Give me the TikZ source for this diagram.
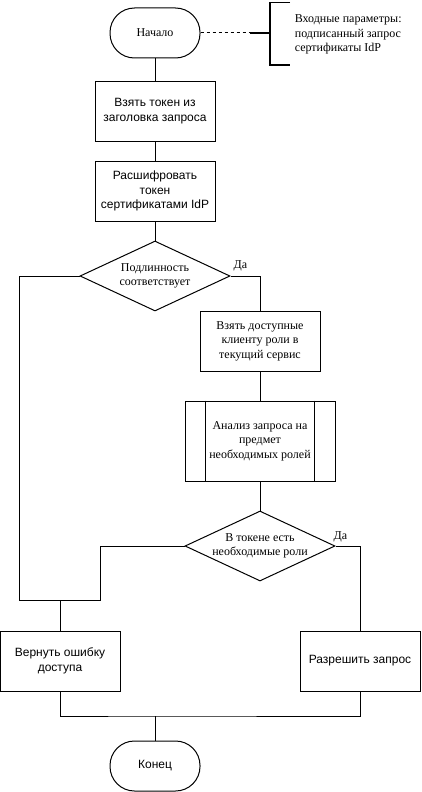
\documentclass[tikz,border=0pt]{standalone}
\usepackage{fontspec}
\setmainfont{Liberation Serif}
\setsansfont{Liberation Sans}
\usetikzlibrary{shapes.geometric}

\begin{document}
\begin{tikzpicture}[x=1pt, y=-1pt, line width=1pt,
  every node/.style={font=\fontsize{12}{14.5}\selectfont},
  box/.style={draw, rectangle, minimum width=120pt, minimum height=60pt,
    inner sep=0pt, align=center},
  sansbox/.style={box, font=\sffamily\fontsize{12}{14.5}\selectfont},
  terminal/.style={draw, rectangle, rounded corners=24.5pt, minimum width=90pt,
    minimum height=50pt, inner sep=0pt, align=center},
  decision/.style={draw, diamond, minimum width=150pt, minimum height=70pt,
    inner sep=0pt},
  dlabel/.style={align=center, font=\fontsize{12}{14.5}\selectfont},
  flow/.style={draw, line width=1pt},
]
\useasboundingbox (0,0) rectangle (421,792);

% terminals
\node[terminal] (start) at (155,33) {Начало};
\node[terminal, font=\sffamily\fontsize{12}{14.5}\selectfont] (finish) at (155,766) {Конец};

% main column
\node[sansbox] (b1) at (155,111) {Взять токен из\\заголовка запроса};
\node[sansbox] (b2) at (155,191) {Расшифровать\\токен\\сертификатами IdP};
\node[decision] (d1) at (155,276) {};
\node[dlabel] (d1t) at (d1) {Подлинность\\соответствует};

% right column
\node[box] (b3) at (260,341) {Взять доступные\\клиенту роли в\\текущий сервис};
\node[box, minimum width=150pt, minimum height=80pt] (b4) at (260,441)
  {Анализ запроса на\\предмет\\необходимых ролей};
\draw ([xshift=21pt]b4.north west) -- ([xshift=21pt]b4.south west);
\draw ([xshift=-21pt]b4.north east) -- ([xshift=-21pt]b4.south east);
\node[decision] (d2) at (260,546) {};
\node[dlabel] (d2t) at (d2) {В токене есть\\необходимые роли};

% outcomes
\node[sansbox] (deny) at (60,661) {Вернуть ошибку\\доступа};
\node[sansbox] (allow) at (360,661) {Разрешить запрос};

% junction points
\coordinate (mergeL) at (60,600);
\coordinate (bendL) at (100,600);
\coordinate (join) at (155,716);

% annotation
\coordinate (annA) at (250,33);
\coordinate (annB) at (270,33);
\draw[dashed, dash pattern=on 3pt off 3pt] (start.east) -- (annA);
\draw[line width=2pt] (annA) -- (annB);
\draw[line width=1.5pt] (290,2.5) -- (270,2.5) -- (270,65) -- (290,65);
\node[align=left, anchor=west] (annt) at (291,34.5)
  {Входные параметры:\\подписанный запрос\\сертификаты IdP};

% connectors
\draw[flow] (start) -- (b1);
\draw[flow] (b1) -- (b2);
\draw[flow] (b2) -- (d1);
\draw[flow] (d1.east) -| (b3.north);
\node (yes1) at ([xshift=10pt, yshift=10pt]d1.east) {Да};
\draw[flow] (d1.west) -- ++(-60,0) |- (mergeL) -- (deny.north);
\draw[flow] (b3) -- (b4);
\draw[flow] (b4) -- (d2);
\draw[flow] (d2.east) -| (allow.north);
\node (yes2) at ([xshift=5pt, yshift=9pt]d2.east) {Да};
\draw[flow] (d2.west) -| (bendL) -- (mergeL);
\draw[flow] (deny.south) |- (join) -| (allow.south);
\draw[flow] (join) -- (finish.north);
\end{tikzpicture}
\end{document}
